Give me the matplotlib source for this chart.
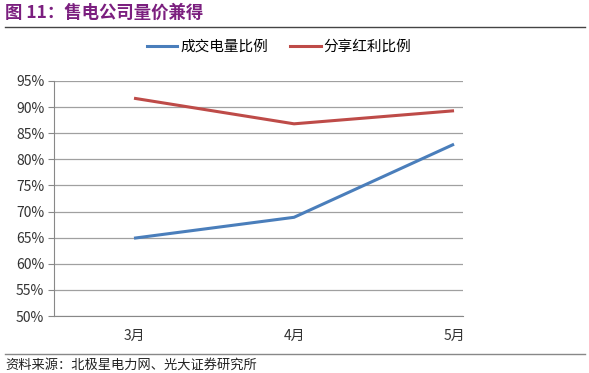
import matplotlib
matplotlib.use('Agg')
import matplotlib.pyplot as plt
from matplotlib.lines import Line2D

plt.rcParams['font.family'] = ['Noto Sans CJK SC', 'DejaVu Sans']

months = ['3月', '4月', '5月']
volume_share = [64.9, 68.9, 82.9]
dividend_share = [91.7, 86.8, 89.3]
yticks = [50, 55, 60, 65, 70, 75, 80, 85, 90, 95]

W, H = 589, 373
fig = plt.figure(figsize=(W / 100, H / 100), dpi=100)
fig.patch.set_facecolor('white')

ax = fig.add_axes([54 / W, 1 - 316 / H, (463 - 54) / W, (316 - 81) / H])
x = list(range(len(months)))
ax.plot(x, volume_share, color='#4a7ebb', lw=2.2, solid_capstyle='butt')
ax.plot(x, dividend_share, color='#be4b48', lw=2.2, solid_capstyle='butt')

ax.set_xlim(-0.5, 2.056)
ax.set_ylim(50, 95)
ax.set_yticks(yticks)
ax.set_yticklabels([f'{v}%' for v in yticks], fontsize=10, color='#333333')
ax.set_xticks(x)
ax.set_xticklabels(months, fontsize=10, color='#333333')
ax.tick_params(axis='y', length=4, color='#888888', pad=3)
ax.tick_params(axis='x', length=0, pad=9)
ax.grid(axis='y', color='#a0a0a0', lw=0.9)
ax.set_axisbelow(True)
for s in ['top', 'right']:
    ax.spines[s].set_visible(False)
ax.spines['left'].set_color('#888888')
ax.spines['bottom'].set_color('#888888')

# legend
handles = [Line2D([], [], color='#4a7ebb', lw=2.2),
           Line2D([], [], color='#be4b48', lw=2.2)]
fig.legend(handles, ['成交电量比例', '分享红利比例'], loc='center',
           bbox_to_anchor=(279 / W, 1 - 47 / H), ncol=2, frameon=False,
           fontsize=10.5, handlelength=2.1, handletextpad=0.2, columnspacing=1.5)

# title and source
fig.text(5 / W, 1 - 13 / H, '图 11：售电公司量价兼得', fontsize=12.5, fontweight='bold',
         color='#7b1f7f', va='center', ha='left')
fig.add_artist(Line2D([5 / W, 585 / W], [1 - 27 / H, 1 - 27 / H], color='#444444', lw=1))
fig.add_artist(Line2D([5 / W, 585 / W], [1 - 354 / H, 1 - 354 / H], color='#888888', lw=1))
fig.text(5 / W, 1 - 365 / H, '资料来源：北极星电力网、光大证券研究所', fontsize=9.5,
         color='#222222', va='center', ha='left')

fig.savefig('out.png', dpi=100, facecolor='white')
